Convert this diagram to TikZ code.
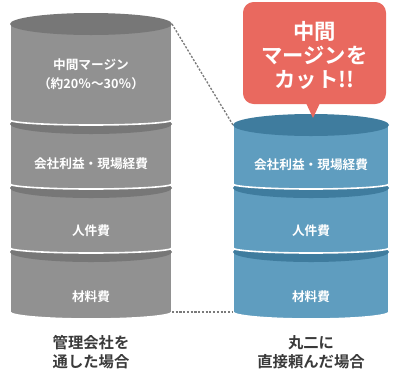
\documentclass[tikz,border=0pt]{standalone}
\usepackage{fontspec}
\newfontfamily\jp{Noto Sans CJK JP}[BoldFont={Noto Sans CJK JP Bold}]
\usepackage{tikz}
\definecolor{greybody}{HTML}{919191}
\definecolor{greytop}{HTML}{777777}
\definecolor{bluebody}{HTML}{5F9DBF}
\definecolor{bluetop}{HTML}{3F7C9E}
\definecolor{callred}{HTML}{E9695F}
\definecolor{captiongray}{HTML}{3A3A3A}
\definecolor{guidegray}{HTML}{7A7A7A}
\tikzset{>=latex}

\begin{document}
\begin{tikzpicture}[x=0.75pt, y=-0.75pt]
\tikzset{segtext/.style={text=white, font=\jp\bfseries\fontsize{9.5}{14}\selectfont, align=center}}
\tikzset{caption/.style={text=captiongray, font=\jp\bfseries\fontsize{11.5}{14.5}\selectfont, align=center}}
\tikzset{calltext/.style={text=white, font=\jp\bfseries\fontsize{16}{18}\selectfont, align=center}}
\tikzset{gap/.style={draw=white, line width=1.2pt}}
\tikzset{guide/.style={draw=guidegray, line width=1pt, dash pattern=on 1.6pt off 1.2pt}}
    \useasboundingbox (0,0) rectangle (395,372);

    \coordinate (Ltop) at (172,24);
    \coordinate (Lbot) at (172,312);
    \coordinate (Rtop) at (233,125);
    \coordinate (Rbot) at (233,312);

% % % % % % % % % % % % % % % % % % %
% left stack, bottom segment first
    \foreach \t/\b/\r in {252/312/7, 188/248/5, 124/184/5}{
        \fill[greybody, gap] (10,\t) -- (10,\b) arc[start angle=180, end angle=0, x radius=81, y radius=\r] -- (172,\t) -- cycle;
        \fill[greytop] (91,\t) ellipse[x radius=81, y radius=10];
    }
    \fill[greybody, gap] (10,24) -- (10,120) arc[start angle=180, end angle=0, x radius=81, y radius=5] -- (172,24) -- cycle;
    \fill[greytop] (91,24) ellipse[x radius=81, y radius=11];

    \node[segtext] (L1) at (91,74) {中間マージン\\（約20％～30％）};
    \node[segtext] (L2) at (91,164) {会社利益・現場経費};
    \node[segtext] (L3) at (91,231) {人件費};
    \node[segtext] (L4) at (91,297) {材料費};
    \node[caption] (Lcap) at (91,352) {管理会社を\\通した場合};

% % % % % % % % % % % % % % % % % % %
% right stack
    \foreach \t/\b/\r in {252/312/7, 188/248/5}{
        \fill[bluebody, gap] (233,\t) -- (233,\b) arc[start angle=180, end angle=0, x radius=78, y radius=\r] -- (389,\t) -- cycle;
        \fill[bluetop] (311,\t) ellipse[x radius=78, y radius=10];
    }
    \fill[bluebody, gap] (233,125) -- (233,184) arc[start angle=180, end angle=0, x radius=78, y radius=5] -- (389,125) -- cycle;
    \fill[bluetop] (311,125) ellipse[x radius=78, y radius=11];

    \node[segtext] (R2) at (311,165) {会社利益・現場経費};
    \node[segtext] (R3) at (311,231) {人件費};
    \node[segtext] (R4) at (311,297) {材料費};
    \node[caption] (Rcap) at (311,352) {丸二に\\直接頼んだ場合};

% % % % % % % % % % % % % % % % % % %
    \draw[guide] (Ltop) -- (Rtop);
    \draw[guide] (Lbot) -- (Rbot);

    \fill[callred, rounded corners=8] (243,2) rectangle (386,104);
    \fill[callred] (306,103) -- (313,118) -- (320,103) -- cycle;
    \node[calltext] (cut) at (314.5,55) {中間\\マージンを\\カット!!};

\end{tikzpicture}
\end{document}
